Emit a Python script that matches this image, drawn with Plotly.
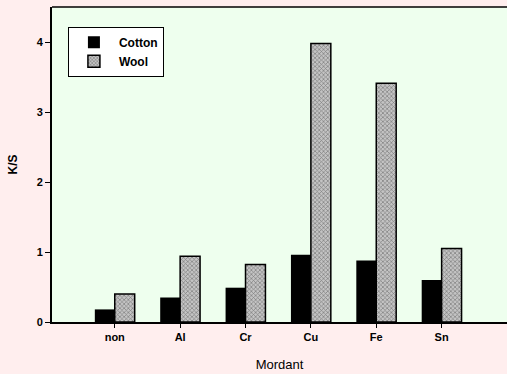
import plotly.graph_objects as go

# Colour strength (K/S) of dyed fabrics for each mordant
mordants = ["non", "Al", "Cr", "Cu", "Fe", "Sn"]
cotton_ks = [0.18, 0.35, 0.49, 0.96, 0.88, 0.60]
wool_ks = [0.40, 0.94, 0.82, 3.98, 3.41, 1.05]
y_ticks = [0, 1, 2, 3, 4]

FONT = "Liberation Sans, Arial, sans-serif"

fig = go.Figure()
fig.add_trace(go.Bar(
    name="Cotton", x=mordants, y=cotton_ks,
    marker=dict(color="black", line=dict(color="black", width=0)),
))
fig.add_trace(go.Bar(
    name="Wool", x=mordants, y=wool_ks,
    marker=dict(
        color="#aaaaaa",
        line=dict(color="black", width=1.5),
        pattern=dict(shape="x", fgcolor="#333333", bgcolor="#c4c4c4",
                     size=3, solidity=0.4),
    ),
))

# top frame line of the plot area
fig.add_shape(type="line", xref="paper", yref="paper",
              x0=0, x1=1, y0=1, y1=1, line=dict(color="black", width=1.5))

fig.update_layout(
    width=507, height=374,
    margin=dict(l=52, r=0, t=7, b=52, pad=0),
    paper_bgcolor="#ffeeee", plot_bgcolor="#eeffee",
    barmode="group", bargap=0.39, bargroupgap=0,
    font=dict(family=FONT, color="black", size=11),
    showlegend=True,
    legend=dict(
        x=0.035, y=0.937, xanchor="left", yanchor="top",
        bordercolor="black", borderwidth=1, bgcolor="white",
        font=dict(family=FONT, size=12, weight="bold"),
        tracegroupgap=0, itemwidth=40,
    ),
    xaxis=dict(
        range=[-0.96, 6.0],
        showline=True, linecolor="black", linewidth=2,
        ticks="outside", ticklen=4, tickwidth=1, tickcolor="black",
        tickfont=dict(family=FONT, size=11, weight="bold"),
        title=dict(text="Mordant", font=dict(family=FONT, size=13), standoff=18),
        showgrid=False, zeroline=False,
    ),
    yaxis=dict(
        range=[0, 4.5],
        tickvals=y_ticks,
        showline=True, linecolor="black", linewidth=2,
        ticks="outside", ticklen=5, tickwidth=1, tickcolor="black",
        tickfont=dict(family=FONT, size=11, weight="bold"),
        title=dict(text="K/S", font=dict(family=FONT, size=12, weight="bold"), standoff=16),
        showgrid=False, zeroline=False,
    ),
)

fig.write_html("out.html")
